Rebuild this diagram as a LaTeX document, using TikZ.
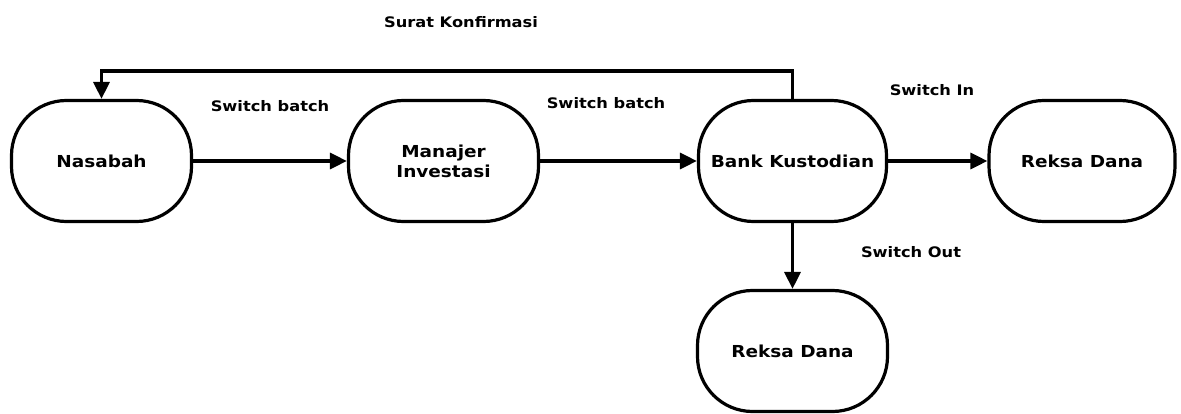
\documentclass[tikz,border=0pt]{standalone}
\usepackage{fontspec}
\newfontfamily\dvs[FakeStretch=1.12]{DejaVu Sans}
\usetikzlibrary{arrows.meta}
\begin{document}
\begin{tikzpicture}[x=1pt,y=-1pt,
  box/.style={draw,line width=3.2pt,rounded corners=55pt,minimum height=121pt,
    align=center,font=\dvs\bfseries\fontsize{16.5}{20}\selectfont,inner sep=0pt},
  lbl/.style={font=\dvs\bfseries\fontsize{14.5}{17}\selectfont,inner sep=0pt},
  conn/.style={line width=3.2pt,-{Triangle[length=17pt,width=16pt]}}]
\useasboundingbox (0,0) rectangle (1181,414);
\node[box,minimum width=180pt] (nas) at (101.5,161) {Nasabah};
\node[box,minimum width=190pt] (man) at (443.5,161) {Manajer\\Investasi};
\node[box,minimum width=188pt] (bank) at (792.5,161) {Bank Kustodian};
\node[box,minimum width=186pt] (rd1) at (1082,161) {Reksa Dana};
\node[box,minimum width=190pt] (rd2) at (792.5,351) {Reksa Dana};
\draw[conn] (nas) -- (man);
\draw[conn] (man) -- (bank);
\draw[conn] (bank) -- (rd1);
\draw[conn] (bank) -- (rd2);
\coordinate (tr) at (792.5,71);
\coordinate (tl) at (101.5,71);
\draw[conn] (bank.north) -- (tr) -- (tl) -- (nas.north);
\node[lbl] (l1) at (270,106) {Switch batch};
\node[lbl] (l2) at (606,103) {Switch batch};
\node[lbl] (l3) at (932,90) {Switch In};
\node[lbl] (l4) at (911,252) {Switch Out};
\node[lbl] (l5) at (461,22) {Surat Konfirmasi};
\end{tikzpicture}
\end{document}
